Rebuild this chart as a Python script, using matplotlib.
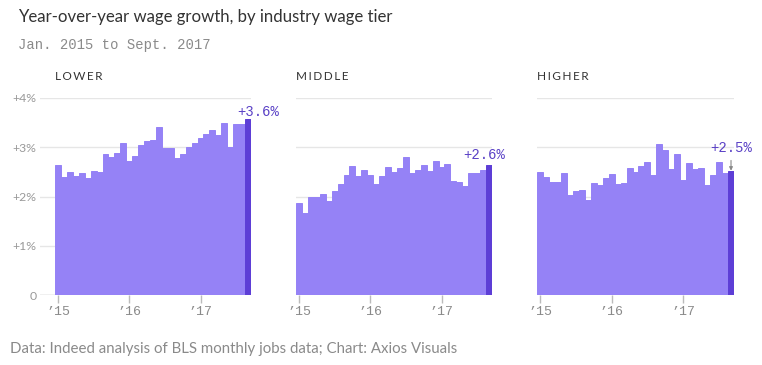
import matplotlib
matplotlib.use("Agg")
import matplotlib.pyplot as plt

# ---- data (Jan 2015 .. Sept 2017, monthly) ----
months = list(range(33))
year_ticks = [0, 12, 24]
year_labels = ["\u201915", "\u201916", "\u201917"]

lower = [2.63, 2.39, 2.49, 2.41, 2.47, 2.38, 2.52, 2.49, 2.86, 2.80, 2.88, 3.09,
         2.72, 2.82, 3.04, 3.13, 3.14, 3.42, 2.99, 2.99, 2.78, 2.87, 3.01, 3.08,
         3.19, 3.27, 3.36, 3.25, 3.49, 3.00, 3.47, 3.47, 3.57]
middle = [1.87, 1.67, 2.00, 2.00, 2.05, 1.90, 2.11, 2.26, 2.43, 2.61, 2.41, 2.54,
          2.44, 2.26, 2.41, 2.60, 2.50, 2.57, 2.81, 2.47, 2.54, 2.64, 2.52, 2.72,
          2.60, 2.65, 2.31, 2.30, 2.21, 2.47, 2.47, 2.54, 2.64]
higher = [2.49, 2.39, 2.30, 2.29, 2.47, 2.04, 2.11, 2.13, 1.92, 2.27, 2.23, 2.37,
          2.45, 2.25, 2.28, 2.58, 2.49, 2.62, 2.70, 2.43, 3.06, 2.95, 2.55, 2.86,
          2.33, 2.69, 2.55, 2.58, 2.24, 2.43, 2.71, 2.47, 2.51]

panel_names = ["LOWER", "MIDDLE", "HIGHER"]
last_labels = ["+3.6%", "+2.6%", "+2.5%"]
y_ticks = [0, 1, 2, 3, 4]
y_tick_labels = ["0", "+1%", "+2%", "+3%", "+4%"]

# ---- style ----
W, H = 762, 365
LIGHT = "#9582f6"
DARK = "#5d3ed6"
ANNOT = "#5a41c6"
GRID = "#e6e6e6"
SANS = ["Lato", "DejaVu Sans"]
MONO = ["Liberation Mono", "DejaVu Sans Mono"]

fig = plt.figure(figsize=(W / 100, H / 100), dpi=100)

def px_axes(left, right, top=98, bottom=295):
    return fig.add_axes([left / W, 1 - bottom / H, (right - left) / W, (bottom - top) / H])

panels = [
    dict(vals=lower, box=(40, 251), xlim=(-3.03, 32.5), off=(10, 7.5), arrow=False),
    dict(vals=middle, box=(296, 492), xlim=(-0.5, 32.5), off=(-5, 9.5), arrow=False),
    dict(vals=higher, box=(537, 734), xlim=(-0.5, 32.5), off=(0, 23.5), arrow=True),
]

for i, p in enumerate(panels):
    ax = px_axes(*p["box"])
    vals = p["vals"]
    colors = [LIGHT] * (len(vals) - 1) + [DARK]
    ax.bar(months, vals, width=1.0, color=colors, edgecolor=colors, linewidth=0.7, zorder=2)
    ax.set_xlim(*p["xlim"])
    ax.set_ylim(0, 4)
    for s in ax.spines.values():
        s.set_visible(False)
    ax.set_yticks(y_ticks)
    ax.grid(axis="y", color=GRID, linewidth=1)
    ax.set_axisbelow(True)
    ax.axhline(0, color="#cccccc", linewidth=1, zorder=1)
    if i == 0:
        ax.set_yticklabels(y_tick_labels, fontfamily=SANS, fontsize=8.8, color="#999999")
    else:
        ax.set_yticklabels([])
    ax.tick_params(axis="y", length=0, pad=2.5)
    ax.set_xticks(year_ticks)
    ax.set_xticklabels(year_labels, fontfamily=MONO, fontsize=9.5, color="#8a8a8a")
    ax.tick_params(axis="x", length=6, width=1, color="#bbbbbb", pad=2)

    # panel title
    bar_left_px = p["box"][0] + (-0.5 - p["xlim"][0]) / (p["xlim"][1] - p["xlim"][0]) * (p["box"][1] - p["box"][0])
    fig.text(bar_left_px / W, 1 - 77 / H, "\u2009".join(panel_names[i]), fontfamily=SANS,
             fontsize=8.5, color="#333333", ha="left", va="center")

    # last value annotation
    ox, oy = p["off"]
    kw = {}
    if p["arrow"]:
        kw["arrowprops"] = dict(arrowstyle="-|>", color="#888888", lw=0.8,
                                shrinkA=2, shrinkB=0.5, mutation_scale=5)
    ax.annotate(last_labels[i], xy=(months[-1], vals[-1]), xytext=(ox * 0.72, oy * 0.72),
                textcoords="offset points", ha="center", va="center",
                fontfamily=MONO, fontsize=10, color=ANNOT, annotation_clip=False, **kw)

fig.text(18 / W, 1 - 17 / H, "Year-over-year wage growth, by industry wage tier",
         fontfamily=SANS, fontsize=12.1, color="#333333", ha="left", va="center")
fig.text(18 / W, 1 - 45 / H, "Jan. 2015 to Sept. 2017",
         fontfamily=MONO, fontsize=10, color="#8a8a8a", ha="left", va="center")
fig.text(10 / W, 1 - 349 / H, "Data: Indeed analysis of BLS monthly jobs data; Chart: Axios Visuals",
         fontfamily=SANS, fontsize=10.8, color="#8a8a8a", ha="left", va="center")

fig.savefig("out.png", dpi=100, facecolor="white")
